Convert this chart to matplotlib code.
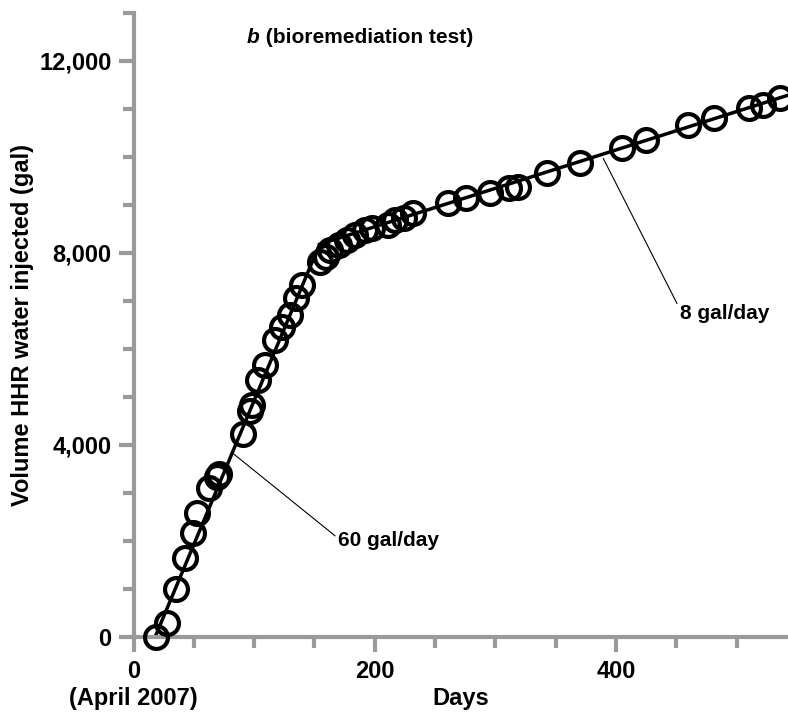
import matplotlib
matplotlib.use("Agg")
import matplotlib.pyplot as plt
from matplotlib.ticker import MultipleLocator, FuncFormatter
import numpy as np

plt.rcParams["font.family"] = ["Liberation Sans", "DejaVu Sans"]
plt.rcParams["font.weight"] = "bold"

# Cumulative volume of HHR water injected (gal) versus elapsed days
days = [19, 28, 35, 43, 49, 53, 63, 69, 71, 91, 97, 98, 103.5, 109, 117, 123,
        130, 135, 139.5, 154.5, 160, 163, 170, 177, 184, 192, 197.5, 211, 217,
        224, 232, 261, 276, 296, 311, 319, 343, 370, 405, 425, 460, 481, 510,
        522, 536]
volume = [0, 285, 995, 1645, 2160, 2580, 3100, 3335, 3390, 4225, 4710, 4830,
          5350, 5660, 6180, 6460, 6700, 7050, 7330, 7810, 7920, 8060, 8160,
          8270, 8370, 8475, 8510, 8580, 8685, 8720, 8825, 9035, 9135, 9240,
          9345, 9380, 9660, 9865, 10180, 10350, 10665, 10805, 11015, 11080,
          11220]

# Injection-rate trend lines
rate_early = 60      # gal/day
start_early = 18     # day at which volume is zero
rate_late = 8        # gal/day
offset_late = 6945   # gal at day 0 for the late trend

x_max = 542.7
y_max = 13000

fig = plt.figure(figsize=(7.88, 7.17), dpi=100)
W, H = 788, 717
x0_px, y0_px, ytop_px = 133.5, 636.7, 13.0
ax = fig.add_axes([x0_px / W, (H - y0_px) / H, (W - x0_px) / W, (y0_px - ytop_px) / H])
ax.set_xlim(0, x_max)
ax.set_ylim(0, y_max)

# two straight-line trends meeting at their intersection
x_break = (offset_late + rate_early * start_early) / (rate_early - rate_late)
x_seg1 = np.array([start_early, x_break])
x_seg2 = np.array([x_break, x_max])
ax.plot(x_seg1, rate_early * (x_seg1 - start_early), color="black", lw=2.5,
        solid_capstyle="butt", zorder=2, clip_on=False)
ax.plot(x_seg2, rate_late * x_seg2 + offset_late, color="black", lw=2.5,
        zorder=2)

ax.plot(days, volume, linestyle="none", marker="o", ms=16.5, mfc="none",
        mec="black", mew=3.0, zorder=3, clip_on=False)

# leader lines and rate labels
x_a = 83
ax.annotate("60 gal/day", xy=(x_a, rate_early * (x_a - start_early) - 90),
            xytext=(169.5, 2015), fontsize=15, fontweight="bold",
            ha="left", va="center",
            arrowprops=dict(arrowstyle="-", color="black", lw=0.8,
                            shrinkA=0, shrinkB=0, relpos=(0, 0.6)))
x_b = 389.5
ax.annotate("8 gal/day", xy=(x_b, rate_late * x_b + offset_late - 90),
            xytext=(453, 6730), fontsize=15, fontweight="bold",
            ha="left", va="center",
            arrowprops=dict(arrowstyle="-", color="black", lw=0.8,
                            shrinkA=0, shrinkB=0, relpos=(0, 0.75)))

# panel title: italic panel letter followed by the description
t_b = fig.text(247 / W, 1 - 43 / H, "b", fontsize=15, fontweight="bold",
               fontstyle="italic", ha="left", va="baseline")
ax.annotate(" (bioremediation test)", xy=(1, 0), xycoords=t_b,
            fontsize=15, fontweight="bold", ha="left", va="bottom")

# axes styling
axis_grey = "#9a9a9a"
for side in ("top", "right"):
    ax.spines[side].set_visible(False)
for side in ("left", "bottom"):
    ax.spines[side].set_color(axis_grey)
    ax.spines[side].set_linewidth(3)

ax.xaxis.set_major_locator(MultipleLocator(200))
ax.xaxis.set_minor_locator(MultipleLocator(50))
ax.yaxis.set_major_locator(MultipleLocator(4000))
ax.yaxis.set_minor_locator(MultipleLocator(1000))

ax.tick_params(which="both", direction="out", color=axis_grey, width=3)
ax.tick_params(which="major", length=10.8)
ax.tick_params(which="minor", length=7.8)
ax.tick_params(axis="x", which="major", pad=6, labelsize=17)
ax.tick_params(axis="y", which="major", pad=5, labelsize=17)

ax.xaxis.set_major_formatter(FuncFormatter(
    lambda v, p: "0\n(April 2007)" if abs(v) < 1e-9 else f"{v:,.0f}"))
ax.yaxis.set_major_formatter(FuncFormatter(lambda v, p: f"{v:,.0f}"))
for lab in ax.get_xticklabels() + ax.get_yticklabels():
    lab.set_fontweight("bold")

ax.set_xlabel("Days", fontsize=17, fontweight="bold", va="baseline")
ax.xaxis.set_label_coords(0.5, (y0_px - 705.5) / (y0_px - ytop_px))
ax.set_ylabel("Volume HHR water injected (gal)", fontsize=17,
              fontweight="bold", va="center")
ax.yaxis.set_label_coords((23 - x0_px) / (W - x0_px), 0.5)

fig.savefig("out.png", dpi=100)
